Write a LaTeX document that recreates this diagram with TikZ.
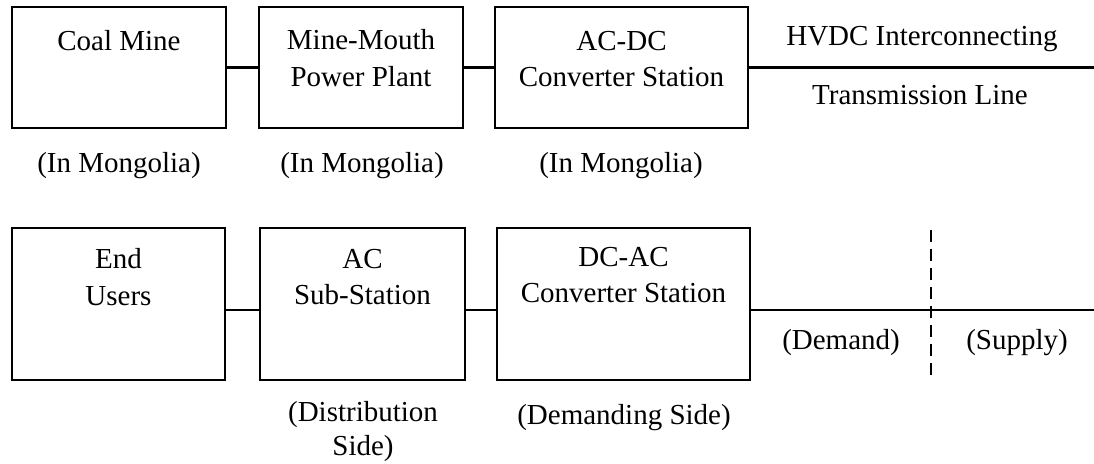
\documentclass[tikz,border=0pt]{standalone}
\usepackage{fontspec}
\setmainfont{Liberation Serif}

\begin{document}
\begin{tikzpicture}[x=0.02cm,y=-0.02cm,
  box/.style={draw=black,line width=1.3pt,inner sep=0pt},
  txt/.style={font=\fontsize{16.5}{20.7}\selectfont,inner sep=0pt,align=center},
  wire/.style={draw=black,line width=1.2pt}]
\useasboundingbox (0,0) rectangle (1094,463);
% supply side boxes
\node[box,minimum width=4.28cm,minimum height=2.42cm] (coal) at (119,67.5) {};
\node[box,minimum width=4.08cm,minimum height=2.42cm] (plant) at (361,67.5) {};
\node[box,minimum width=5.06cm,minimum height=2.42cm] (acdc) at (621.5,67.5) {};
\node[txt,anchor=north] (coaltxt) at (119,30.5) {Coal Mine};
\node[txt,anchor=north] (planttxt) at (361,29.5) {Mine-Mouth\\Power Plant};
\node[txt,anchor=north] (acdctxt) at (621.5,31) {AC-DC\\Converter Station};
% demand side boxes
\node[box,minimum width=4.26cm,minimum height=3.04cm] (users) at (118.5,304) {};
\node[box,minimum width=4.10cm,minimum height=3.04cm] (sub) at (362.5,304) {};
\node[box,minimum width=5.06cm,minimum height=3.04cm] (dcac) at (623.5,304) {};
\node[txt,anchor=north] (userstxt) at (118.5,248.5) {End\\Users};
\node[txt,anchor=north] (subtxt) at (362.5,249) {AC\\Sub-Station};
\node[txt,anchor=north] (dcactxt) at (623.5,247) {DC-AC\\Converter Station};
% line ends
\coordinate (hvdcend) at (1094,67.5);
\coordinate (bus) at (1094,310);
\coordinate (bordertop) at (931,230);
\coordinate (borderbot) at (931,378);
% connectors
\draw[wire] (coal) -- (plant);
\draw[wire] (plant) -- (acdc);
\draw[wire] (acdc) -- (hvdcend);
\draw[wire] (users.east |- bus) -- (sub.west |- bus);
\draw[wire] (sub.east |- bus) -- (dcac.west |- bus);
\draw[wire] (dcac.east |- bus) -- (bus);
\draw[line width=1.2pt,dash pattern=on 6.8pt off 4pt] (bordertop) -- (borderbot);
% notes
\node[txt,anchor=base] (hvdctxt) at (922,45) {HVDC Interconnecting};
\node[txt,anchor=base] (linetxt) at (920,104) {Transmission Line};
\node[txt,anchor=base] (coalnote) at (119,172) {(In Mongolia)};
\node[txt,anchor=base] (plantnote) at (362,172) {(In Mongolia)};
\node[txt,anchor=base] (acdcnote) at (621,172) {(In Mongolia)};
\node[txt,anchor=north,font=\fontsize{16.5}{19.5}\selectfont] (subnote) at (363,401) {(Distribution\\Side)};
\node[txt,anchor=base] (dcacnote) at (624,424) {(Demanding Side)};
\node[txt,anchor=base] (demandtxt) at (841,349) {(Demand)};
\node[txt,anchor=base] (supplytxt) at (1017,349) {(Supply)};
\end{tikzpicture}
\end{document}
